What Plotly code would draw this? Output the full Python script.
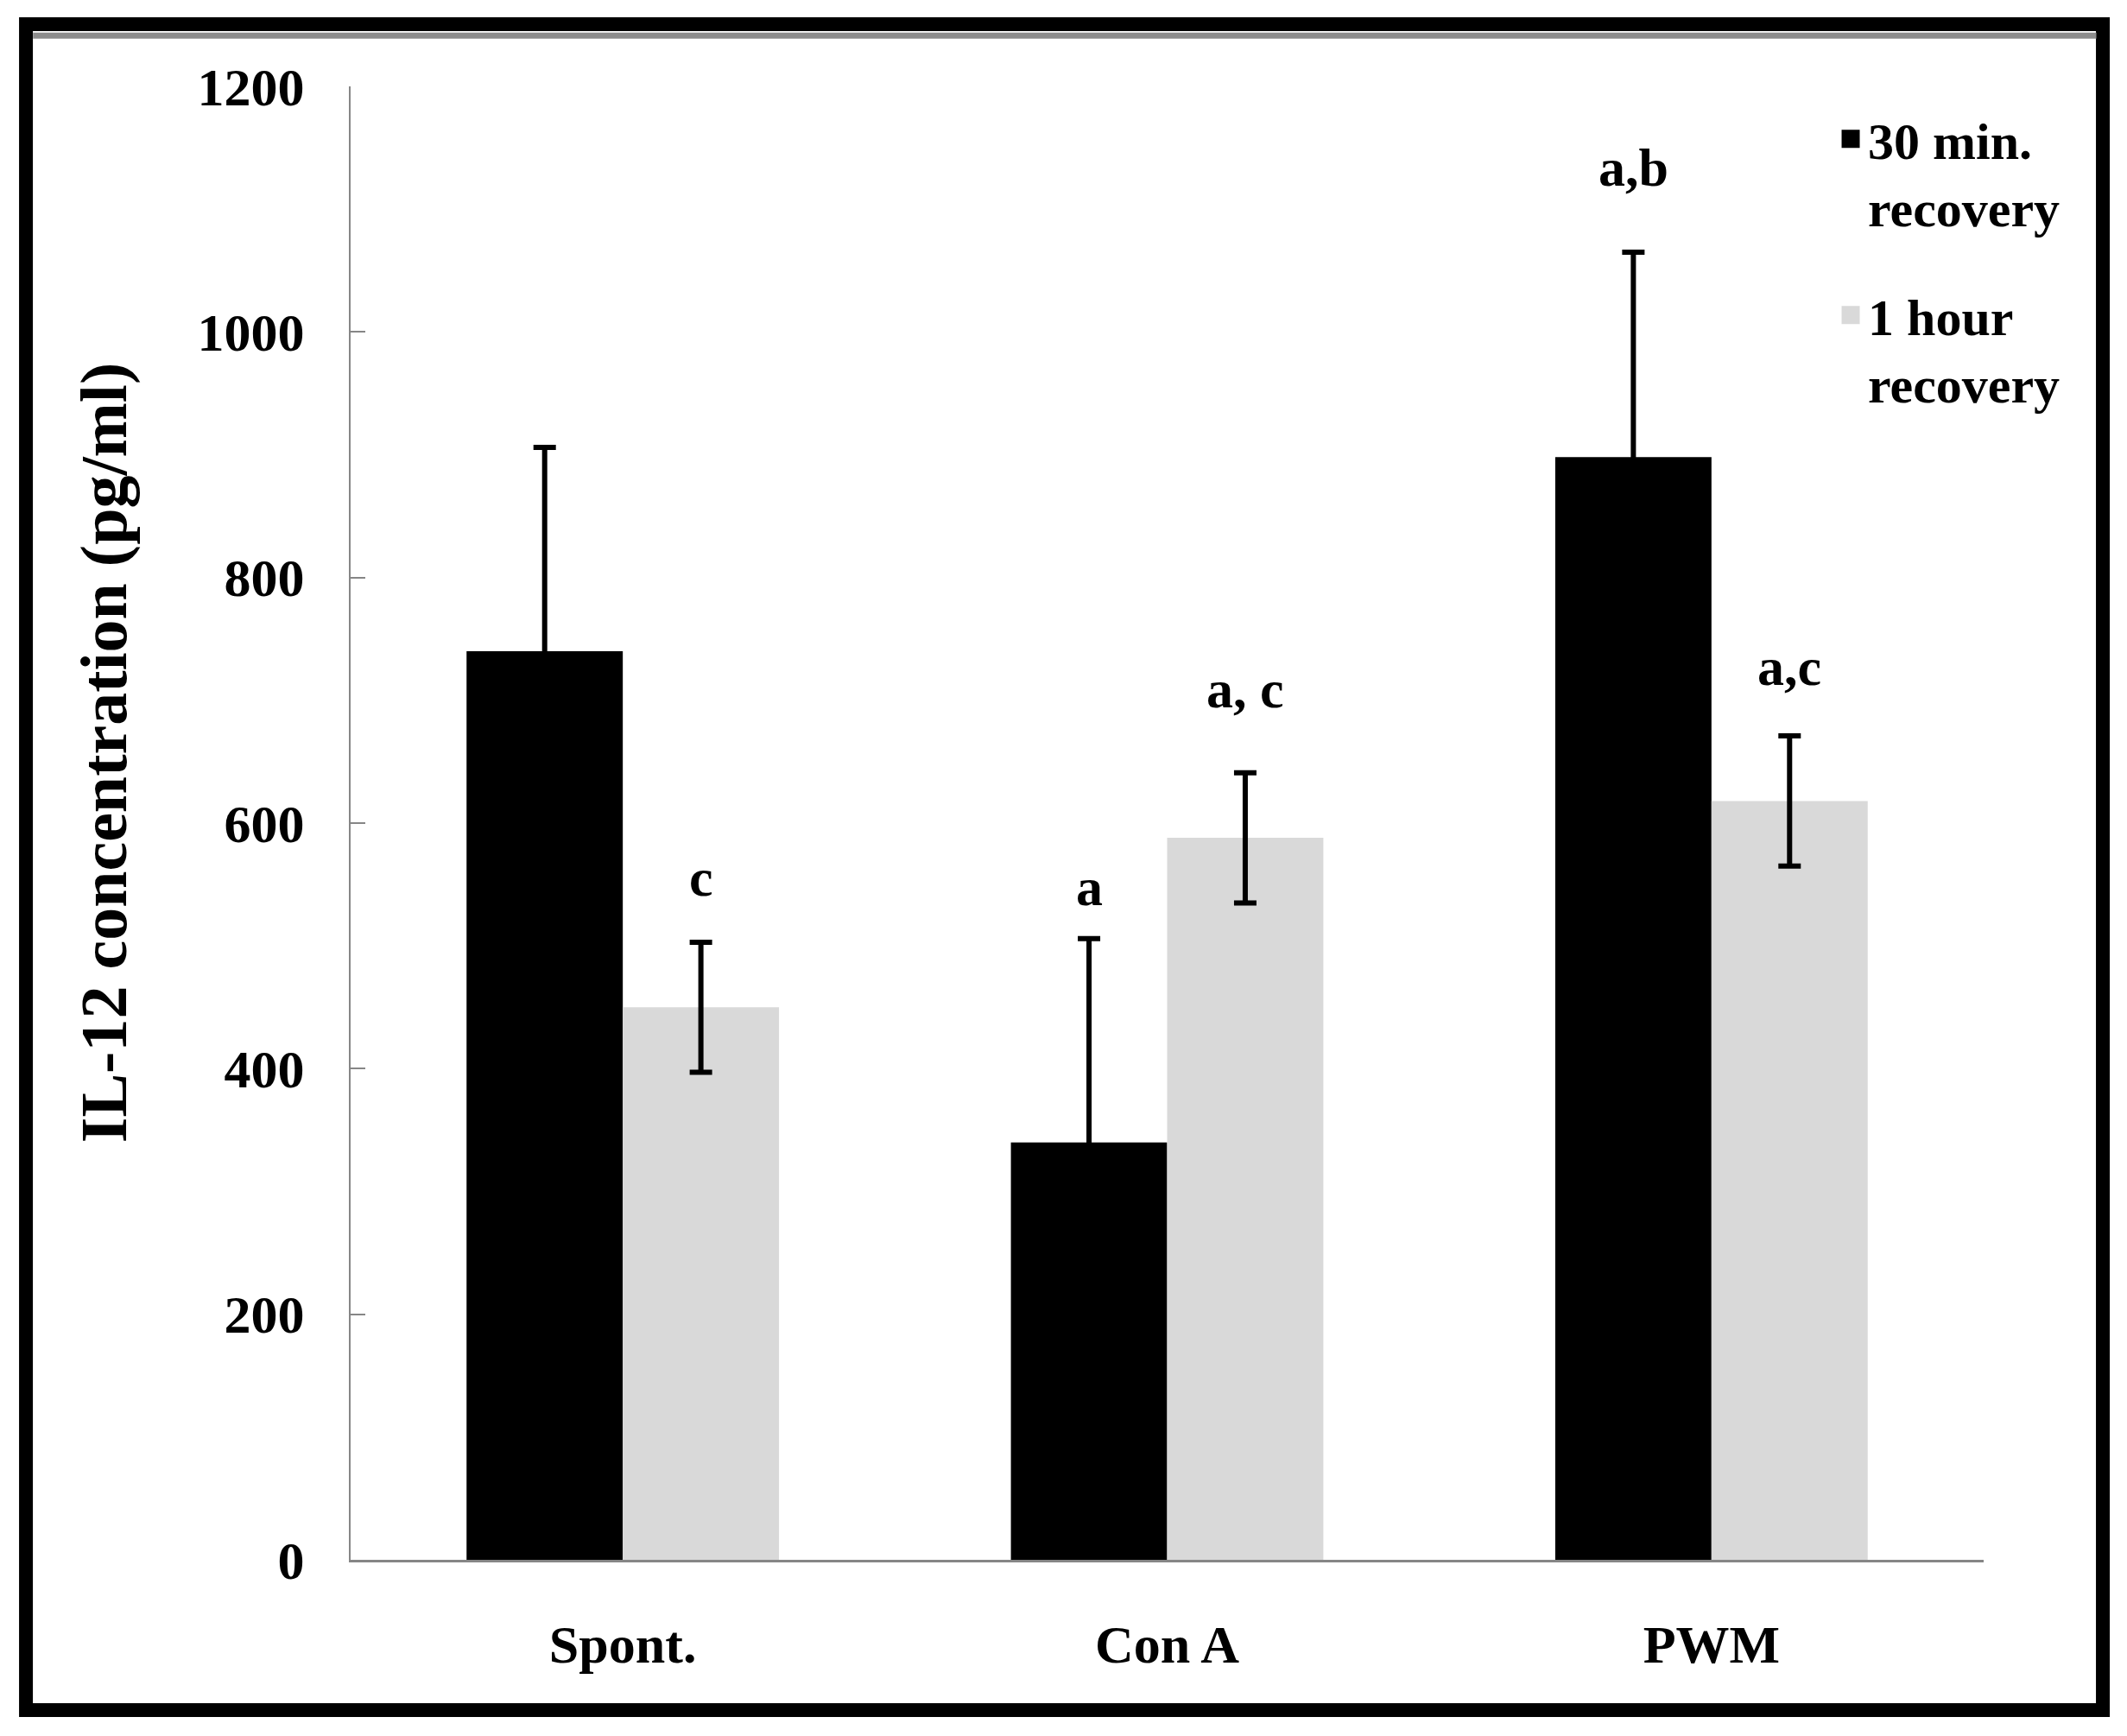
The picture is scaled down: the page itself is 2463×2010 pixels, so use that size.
import plotly.graph_objects as go

# ---- data ----
categories = ["Spont.", "Con A", "PWM"]
series_names = ["30 min.<br>recovery", "1 hour<br>recovery"]
values_30min = [740, 340, 898]
errors_30min = [166, 166, 167]
values_1hour = [450, 588, 618]
errors_1hour = [53, 53, 53]
letters_30min = ["", "a", "a,b"]
letters_30min_y = [None, 548, 1134]
letters_1hour = ["c", "a, c", "a,c"]
letters_1hour_y = [556, 709, 727]
y_ticks = [0, 200, 400, 600, 800, 1000, 1200]

FONT = "Liberation Serif, Times New Roman, serif"
BLACK = "#000000"
GREY = "#D9D9D9"
AXIS = "#868686"
BARGAP = 0.426
colors = [BLACK, GREY]

x_idx = list(range(len(categories)))

fig = go.Figure()
for vals, errs, col in ((values_30min, errors_30min, BLACK), (values_1hour, errors_1hour, GREY)):
    fig.add_trace(go.Bar(
        x=x_idx, y=vals, marker_color=col, marker_line_width=0, showlegend=False,
        error_y=dict(type="data", array=errs, visible=True,
                     color=BLACK, thickness=6, width=13),
    ))

# legend entries (square swatches)
for k, (name, col) in enumerate(zip(series_names, colors)):
    fig.add_trace(go.Scatter(
        x=[None], y=[None], mode="markers", name=name, legendgroup=f"g{k}",
        marker=dict(symbol="square", size=16, color=col,
                    line=dict(color=col, width=5)),
    ))

# significance letters above the bars
offset = (1 - BARGAP) / 4
annotations = []
for i in x_idx:
    if letters_30min[i]:
        annotations.append(dict(x=i - offset, y=letters_30min_y[i], xref="x", yref="y",
                                text=letters_30min[i], showarrow=False,
                                font=dict(family=FONT, size=62, color=BLACK, weight="bold"),
                                xanchor="center", yanchor="middle"))
    if letters_1hour[i]:
        annotations.append(dict(x=i + offset, y=letters_1hour_y[i], xref="x", yref="y",
                                text=letters_1hour[i], showarrow=False,
                                font=dict(family=FONT, size=62, color=BLACK, weight="bold"),
                                xanchor="center", yanchor="middle"))

# y-axis title
annotations.append(dict(x=-0.1506, y=0.5475, xref="paper", yref="paper",
                        text="IL-12 concentration (pg/ml)", textangle=-90,
                        showarrow=False, xanchor="center", yanchor="middle",
                        font=dict(family=FONT, size=76, color=BLACK, weight="bold")))

shapes = [
    # outer frame
    dict(type="rect", xref="paper", yref="paper", x0=-0.1988, x1=1.0730,
         y0=-0.1020, y1=1.0422, line=dict(color=BLACK, width=16), layer="above"),
    # grey inner shadow line under the top border
    dict(type="line", xref="paper", yref="paper", x0=-0.1945, x1=1.0690,
         y0=1.0345, y1=1.0345, line=dict(color="#8C8C8C", width=7), layer="above"),
]

fig.update_layout(
    width=2447, height=1994,
    margin=dict(l=398, r=158, t=92, b=196, autoexpand=False),
    paper_bgcolor="white", plot_bgcolor="white",
    font=dict(family=FONT, color=BLACK, size=62, weight="bold"),
    barmode="group", bargap=BARGAP, bargroupgap=0,
    showlegend=True,
    legend=dict(x=0.908, y=0.991, xanchor="left", yanchor="top",
                font=dict(family=FONT, size=60, color=BLACK, weight="bold"),
                valign="top", tracegroupgap=45, bgcolor="rgba(0,0,0,0)",
                itemwidth=30, itemsizing="trace"),
    annotations=annotations,
    shapes=shapes,
)

fig.update_xaxes(
    range=[-0.5, 2.5], tickmode="array", tickvals=x_idx, ticktext=categories,
    showline=True, linecolor=AXIS, linewidth=3, ticks="", showgrid=False,
    zeroline=False, tickfont=dict(family=FONT, size=62, color=BLACK, weight="bold"),
    ticklabelstandoff=42, automargin=False,
)
fig.update_yaxes(
    range=[0, 1200], tickmode="array", tickvals=y_ticks,
    ticktext=[str(v) for v in y_ticks],
    showline=True, linecolor=AXIS, linewidth=2, ticks="inside", ticklen=17,
    tickcolor=AXIS, tickwidth=2, showgrid=False, zeroline=False,
    tickfont=dict(family=FONT, size=62, color=BLACK, weight="bold"),
    ticklabelstandoff=39, automargin=False,
)

fig.write_html("out.html")
